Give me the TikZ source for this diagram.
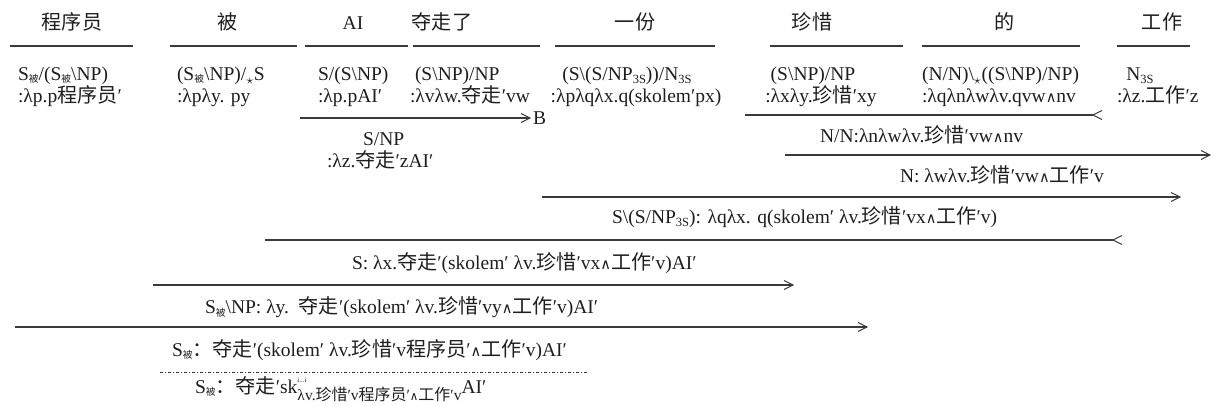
\documentclass[tikz,border=0pt]{standalone}
\usepackage{amsmath}
\usepackage{fontspec}
\setmainfont{Liberation Serif}
\newfontfamily\cjk{Noto Sans CJK SC}[Scale=1.03]
\newfontfamily\symf{DejaVu Serif}
\definecolor{ink}{HTML}{1E1E1E}
\definecolor{ink2}{HTML}{3A3A3A}
\newcommand\zh[1]{{\cjk #1}}
\newcommand\bs{\textbackslash}
\newcommand\wg{{\symf\scalebox{0.75}{∧}}}
\newcommand\Sb{S\raisebox{-2pt}{\fontsize{9.5}{9.5}\selectfont\cjk 被}}
\newcommand\sbt[1]{\raisebox{-2.5pt}{\fontsize{12.5}{12.5}\selectfont #1}}
\newcommand\tipR[1]{\draw[rule] (#1) ++(-9,-4.5) -- (#1) -- ++(-9,4.5);}
\newcommand\tipL[1]{\draw[rule] (#1) ++(9,-4.5) -- (#1) -- ++(9,4.5);}
\begin{document}
\begin{tikzpicture}[x=1pt,y=-1pt,
  every node/.style={inner sep=0pt,outer sep=0pt,text=ink,font=\fontsize{19.5}{22}\selectfont},
  hdr/.style={anchor=base},
  lt/.style={anchor=base west},
  ct/.style={anchor=base},
  rule/.style={draw=ink2,line width=1.1pt},
  dotrule/.style={draw=ink2,line width=0.8pt,dash pattern=on 3pt off 2pt on 1pt off 2pt}]
\useasboundingbox (0,0) rectangle (1211,406);
% headers
\node[hdr] (h1) at (72,30) {\zh{程序员}};
\node[hdr] (h2) at (228,30) {\zh{被}};
\node[hdr] (h3) at (353,30) {AI};
\node[hdr] (h4) at (442,30) {\zh{夺走了}};
\node[hdr] (h5) at (635,30) {\zh{一份}};
\node[hdr] (h6) at (812,30) {\zh{珍惜}};
\node[hdr] (h7) at (1005,30) {\zh{的}};
\node[hdr] (h8) at (1162,30) {\zh{工作}};
% header rules
\foreach \a/\b [count=\i] in {10/133,170/297,305/408,413/540,555/715,770/903,922/1080,1117/1190}{
  \coordinate (u\i a) at (\a,46); \coordinate (u\i b) at (\b,46);
  \draw[rule] (u\i a) -- (u\i b);}
% lexical categories
\node[lt] (c1) at (18,81) {\Sb/(\Sb\bs NP)};
\node[lt] (s1) at (18,103) {:λp.p\zh{程序员}′};
\node[lt] (c2) at (177,81) {(\Sb\bs NP)/$_\star$S};
\node[lt] (s2) at (177,103) {:λpλy. py};
\node[lt] (c3) at (318,81) {S/(S\bs NP)};
\node[lt] (s3) at (318,103) {:λp.pAI′};
\node[lt] (c4) at (415,81) {(S\bs NP)/NP};
\node[lt] (s4) at (410,103) {:λvλw.\zh{夺走}′vw};
\node[ct] (c5) at (627,81) {(S\bs(S/NP\sbt{3S}))/N\sbt{3S}};
\node[ct] (s5) at (636,103) {:λpλqλx.q(skolem′px)};
\node[ct] (c6) at (813,81) {(S\bs NP)/NP};
\node[ct] (s6) at (821,103) {:λxλy.\zh{珍惜}′xy};
\node[lt] (c7) at (922,81) {(N/N)\bs$_\star$((S\bs NP)/NP)};
\node[lt] (s7) at (922,103) {:λqλnλwλv.qvw\wg nv};
\node[ct] (c8) at (1140,81) {N\sbt{3S}};
\node[lt] (s8) at (1117,103) {:λz.\zh{工作}′z};
% derivation rules
\coordinate (r1a) at (300,118); \coordinate (r1b) at (530,118);
\draw[rule] (r1a) -- (r1b); \tipR{r1b}
\node[lt] (bB) at (533,125) {B};
\node[lt] (d1) at (363,146) {S/NP};
\node[lt] (d1s) at (327,168) {:λz.\zh{夺走}′zAI′};
\coordinate (r2a) at (745,115); \coordinate (r2b) at (1093,115);
\draw[rule] (r2a) -- (r2b); \tipL{r2b}
\node[lt] (d2) at (820,143) {N/N:λnλwλv.\zh{珍惜}′vw\wg nv};
\coordinate (r3a) at (785,155); \coordinate (r3b) at (1210,155);
\draw[rule] (r3a) -- (r3b); \tipR{r3b}
\node[lt] (d3) at (900,183) {N: λwλv.\zh{珍惜}′vw\wg\zh{工作}′v};
\coordinate (r4a) at (542,197); \coordinate (r4b) at (1180,197);
\draw[rule] (r4a) -- (r4b); \tipR{r4b}
\node[lt] (d4) at (612,224) {S\bs(S/NP\sbt{3S}): λqλx. q(skolem′ λv.\zh{珍惜}′vx\wg\zh{工作}′v)};
\coordinate (r5a) at (265,240); \coordinate (r5b) at (1113,240);
\draw[rule] (r5a) -- (r5b); \tipL{r5b}
\node[lt] (d5) at (352,270) {S: λx.\zh{夺走}′(skolem′ λv.\zh{珍惜}′vx\wg\zh{工作}′v)AI′};
\coordinate (r6a) at (153,285); \coordinate (r6b) at (793,285);
\draw[rule] (r6a) -- (r6b); \tipR{r6b}
\node[lt] (d6) at (205,314) {\Sb\bs NP: λy.\ \ \zh{夺走}′(skolem′ λv.\zh{珍惜}′vy\wg\zh{工作}′v)AI′};
\coordinate (r7a) at (15,327); \coordinate (r7b) at (867,327);
\draw[rule] (r7a) -- (r7b); \tipR{r7b}
\node[lt] (d7) at (172,356) {\Sb\zh{：}\zh{夺走}′(skolem′ λv.\zh{珍惜}′v\zh{程序员}′\wg\zh{工作}′v)AI′};
\coordinate (r8a) at (160,372); \coordinate (r8b) at (588,372);
\draw[dotrule] (r8a) -- (r8b);
\node[lt] (d8) at (195,393) {\Sb\zh{：}\zh{夺走}′sk\rlap{\raisebox{11pt}{\fontsize{7}{7}\selectfont i...i}}\raisebox{-7pt}{\fontsize{15.5}{15.5}\selectfont λv.\zh{珍惜}′v\zh{程序员}′\wg\zh{工作}′v}AI′};
\end{tikzpicture}
\end{document}
